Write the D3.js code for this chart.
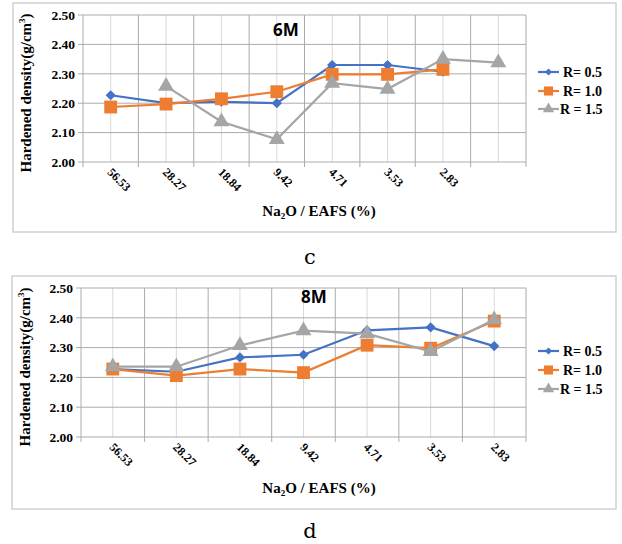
<!DOCTYPE html>
<html>
<head>
<meta charset="utf-8">
<script src="https://cdn.jsdelivr.net/npm/d3@7"></script>
<style>
  body { margin: 0; background: #fff; }
  svg { display: block; }
  .tick-lbl, .ytick, .axis-title, .legend text { font-family: "Liberation Serif", "Times New Roman", serif; font-weight: bold; fill: #000; }
</style>
</head>
<body>
<div id="chart"></div>
<script>
// ---- data ----
var series = ["R= 0.5", "R= 1.0", "R = 1.5"];
var colors = ["#4472C4", "#ED7D31", "#A5A5A5"];
var yTicks = [2.00, 2.10, 2.20, 2.30, 2.40, 2.50];

// 6M panel (eighth category has no label, only R = 1.5 has a value there)
var cats6M = ["56.53", "28.27", "18.84", "9.42", "4.71", "3.53", "2.83", ""];
var r05_6M = [2.227, 2.200, 2.205, 2.200, 2.330, 2.330, 2.307, null];
var r10_6M = [2.187, 2.197, 2.215, 2.239, 2.298, 2.298, 2.315, null];
var r15_6M = [null, 2.258, 2.137, 2.077, 2.268, 2.248, 2.350, 2.338];

// 8M panel
var cats8M = ["56.53", "28.27", "18.84", "9.42", "4.71", "3.53", "2.83"];
var r05_8M = [2.228, 2.219, 2.267, 2.276, 2.358, 2.368, 2.305];
var r10_8M = [2.228, 2.206, 2.228, 2.216, 2.308, 2.298, 2.389];
var r15_8M = [2.236, 2.236, 2.307, 2.357, 2.347, 2.287, 2.394];

var W = 622, H = 544;
var svg = d3.select("#chart").append("svg").attr("width", W).attr("height", H);

var symbols = [d3.symbolSquare, d3.symbolSquare, d3.symbolTriangle];
var sizes = [52, 165, 110];
var rotations = [45, 0, 0];

function drawPanel(p) {
	var g = svg.append("g");

	// outer frame
	g.append("rect")
		.attr("x", p.frame[0]).attr("y", p.frame[1])
		.attr("width", p.frame[2]).attr("height", p.frame[3])
		.attr("fill", "none").attr("stroke", "#d0d0d0").attr("stroke-width", 1.5);

	var x = d3.scaleBand().domain(d3.range(p.cats.length)).range([p.left, p.right]);
	var y = d3.scaleLinear().domain([2.0, 2.5]).range([p.bottom, p.top]);
	var half = x.bandwidth() / 2;

	// minor vertical grid through category centres
	g.selectAll(".vminor").data(p.cats).enter().append("line")
		.attr("x1", function(d, i) { return x(i) + half; })
		.attr("x2", function(d, i) { return x(i) + half; })
		.attr("y1", p.top).attr("y2", p.bottom)
		.attr("stroke", "#d9d9d9").attr("stroke-width", 1);

	// major vertical grid at category boundaries + ticks
	var bounds = d3.range(p.cats.length + 1).map(function(i) { return p.left + i * x.bandwidth(); });
	g.selectAll(".vmajor").data(bounds).enter().append("line")
		.attr("x1", function(d) { return d; }).attr("x2", function(d) { return d; })
		.attr("y1", p.top).attr("y2", p.bottom + 5)
		.attr("stroke", "#ababab").attr("stroke-width", 1);

	// horizontal grid
	g.selectAll(".hgrid").data(yTicks).enter().append("line")
		.attr("x1", p.left - 5).attr("x2", p.right)
		.attr("y1", function(d) { return y(d); }).attr("y2", function(d) { return y(d); })
		.attr("stroke", "#ababab").attr("stroke-width", 1);

	// y tick labels
	g.selectAll(".ytick").data(yTicks).enter().append("text")
		.attr("class", "ytick")
		.attr("x", p.left - 8)
		.attr("y", function(d) { return y(d); })
		.attr("dy", "0.35em")
		.attr("text-anchor", "end")
		.attr("font-size", 13.5)
		.text(function(d) { return d3.format(".2f")(d); });

	// x tick labels, rotated
	g.selectAll(".tick-lbl").data(p.cats).enter().append("text")
		.attr("class", "tick-lbl")
		.attr("font-size", 12)
		.attr("transform", function(d, i) { return "translate(" + (x(i) + half - 4) + "," + (p.bottom + 11) + ") rotate(45)"; })
		.text(function(d) { return d; });

	// axis titles
	var yt = g.append("text").attr("class", "axis-title")
		.attr("font-size", 15)
		.attr("text-anchor", "middle")
		.attr("transform", "translate(" + p.ytx + "," + p.ytc + ") rotate(-90)");
	yt.append("tspan").text("Hardened density(g/cm");
	yt.append("tspan").attr("font-size", 9).attr("dy", -6).text("3");
	yt.append("tspan").attr("dy", 6).text(")");

	var xt = g.append("text").attr("class", "axis-title")
		.attr("font-size", 15)
		.attr("text-anchor", "middle")
		.attr("x", 319).attr("y", p.xty);
	xt.append("tspan").text("Na");
	xt.append("tspan").attr("font-size", 9).attr("dy", 3).text("2");
	xt.append("tspan").attr("dy", -3).text("O / EAFS (%)");

	// panel title
	g.append("text")
		.attr("x", p.titleX).attr("y", p.titleY)
		.attr("dy", "0.35em")
		.attr("font-family", "'Open Sans', 'Liberation Sans', sans-serif")
		.attr("font-weight", "bold").attr("font-size", 17)
		.text(p.title);

	// lines and markers
	var line = d3.line()
		.defined(function(d) { return d != null; })
		.x(function(d, i) { return x(i) + half; })
		.y(function(d) { return y(d); });

	p.values.forEach(function(vals, s) {
		g.append("path")
			.attr("d", line(vals))
			.attr("fill", "none").attr("stroke", colors[s]).attr("stroke-width", 2.2);
		var pts = vals.map(function(v, i) { return {i: i, v: v}; })
			.filter(function(d) { return d.v != null; });
		g.selectAll(".pt" + s).data(pts).enter()
			.append("path")
			.attr("transform", function(d) { return "translate(" + (x(d.i) + half) + "," + y(d.v) + ") rotate(" + rotations[s] + ")"; })
			.attr("d", d3.symbol().type(symbols[s]).size(sizes[s]))
			.attr("fill", colors[s]);
	});

	// legend
	var lg = g.append("g").attr("class", "legend");
	series.forEach(function(name, s) {
		var ly = p.legendY[s];
		lg.append("line").attr("x1", 538).attr("x2", 559).attr("y1", ly).attr("y2", ly)
			.attr("stroke", colors[s]).attr("stroke-width", 2.2);
		lg.append("path").attr("transform", "translate(548.5," + ly + ") rotate(" + rotations[s] + ")")
			.attr("d", d3.symbol().type(symbols[s]).size(sizes[s] * 0.5))
			.attr("fill", colors[s]);
		lg.append("text").attr("x", s == 2 ? 560 : 563).attr("y", ly).attr("dy", "0.35em")
			.attr("font-size", 14).text(name);
	});

	// caption letter
	svg.append("text")
		.attr("x", 310).attr("y", p.capY)
		.attr("dy", "0.35em")
		.attr("text-anchor", "middle")
		.attr("font-family", "'DejaVu Serif', serif")
		.attr("font-size", 21)
		.text(p.caption);
}

drawPanel({
	frame: [13, 3, 603, 229], left: 83, right: 526, top: 15, bottom: 162,
	cats: cats6M, values: [r05_6M, r10_6M, r15_6M],
	ytx: 31, ytc: 93, xty: 216, title: "6M", titleX: 273, titleY: 30,
	legendY: [72, 91, 109], caption: "c", capY: 257
});

drawPanel({
	frame: [12, 276, 604, 233], left: 81, right: 526, top: 288, bottom: 437,
	cats: cats8M, values: [r05_8M, r10_8M, r15_8M],
	ytx: 30, ytc: 367, xty: 493, title: "8M", titleX: 301, titleY: 297,
	legendY: [351, 370, 389], caption: "d", capY: 531
});
</script>
</body>
</html>
